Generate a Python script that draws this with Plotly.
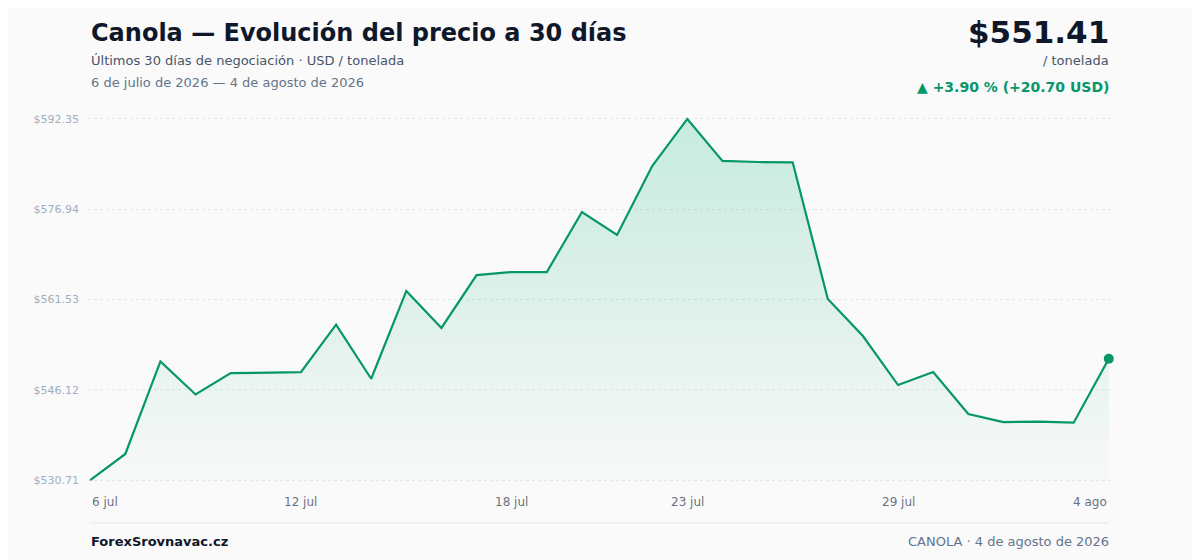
import plotly.graph_objects as go
import pandas as pd

# 30 calendar days, 6 jul 2026 -> 4 ago 2026
dates = pd.date_range("2026-07-06", periods=30, freq="D")
prices = [530.71, 535.16, 550.97, 545.32, 548.96, 549.08, 549.13, 557.25, 548.00, 563.00,
          556.67, 565.69, 566.21, 566.21, 576.47, 572.54, 584.32, 592.35, 585.18, 585.00,
          584.95, 561.61, 555.30, 546.93, 549.15, 541.98, 540.61, 540.70, 540.50, 551.41]

y_ticks = [530.71, 546.12, 561.53, 576.94, 592.35]
y_tick_text = ["$530.71", "$546.12", "$561.53", "$576.94", "$592.35"]
x_tick_dates = ["2026-07-06", "2026-07-12", "2026-07-18", "2026-07-23", "2026-07-29", "2026-08-04"]
x_tick_text = ["6 jul", "12 jul", "18 jul", "23 jul", "29 jul", "4 ago"]

GREEN = "#059669"
BG = "#fafafa"
FONT = "DejaVu Sans"

# the page body adds 8px around the figure, so work in page pixels and shift
OFF = 8
W, H = 1200 - OFF, 560 - OFF
X0, X1, Y0, Y1 = 88, 1111, 116, 483   # plot area, page pixels

def px(x):
    return (x - X0) / (X1 - X0)

def py(y):
    return (Y1 - y) / (Y1 - Y0)

ymin, ymax = min(prices), max(prices)
pad = 0.5

fig = go.Figure()
fig.add_trace(go.Scatter(
    x=dates, y=prices,
    mode="lines",
    line=dict(color=GREEN, width=2.2),
    fill="tozeroy",
    fillgradient=dict(type="vertical", start=ymin, stop=ymax,
                      colorscale=[[0, "rgba(5,150,105,0.01)"], [1, "rgba(16,185,129,0.22)"]]),
    hoverinfo="skip",
))
fig.add_trace(go.Scatter(
    x=[dates[-1]], y=[prices[-1]],
    mode="markers",
    marker=dict(color=GREEN, size=10),
    cliponaxis=False,
    hoverinfo="skip",
))

annotations = []
# x tick labels: first left aligned, last right aligned
for i, (d, t) in enumerate(zip(x_tick_dates, x_tick_text)):
    anchor = "left" if i == 0 else ("right" if i == len(x_tick_dates) - 1 else "center")
    annotations.append(dict(x=d, y=0, xref="x", yref="paper", text=t, showarrow=False,
                            xanchor=anchor, yanchor="top", yshift=-10,
                            font=dict(size=12, color="#6b7280")))

def label(x, y, text, size, color, anchor="left", bold=False):
    if bold:
        text = "<b>" + text + "</b>"
    annotations.append(dict(x=px(x), y=py(y), xref="paper", yref="paper", text=text,
                            showarrow=False, xanchor=anchor, yanchor="middle",
                            font=dict(size=size, color=color, family=FONT)))

label(89, 33, "Canola — Evolución del precio a 30 días", 24, "#0f172a", bold=True)
label(89, 61, "Últimos 30 días de negociación · USD / tonelada", 13, "#475569")
label(89, 83, "6 de julio de 2026 — 4 de agosto de 2026", 13, "#64748b")
label(1111, 32, "$551.41", 31, "#0f172a", anchor="right", bold=True)
label(1111, 61, "/ tonelada", 13, "#475569", anchor="right")
label(1111, 87, "▲ +3.90 % (+20.70 USD)", 14, GREEN, anchor="right", bold=True)
label(89, 541, "ForexSrovnavac.cz", 13, "#0f172a", bold=True)
label(1111, 541, "CANOLA · 4 de agosto de 2026", 13, "#64748b", anchor="right")

fig.update_layout(
    width=W, height=H,
    margin=dict(l=X0 - OFF, r=1200 - X1, t=Y0 - OFF, b=560 - Y1),
    paper_bgcolor=BG, plot_bgcolor=BG,
    font=dict(family=FONT),
    showlegend=False,
    annotations=annotations,
    shapes=[dict(type="line", xref="paper", yref="paper", x0=px(90), x1=px(1109),
                 y0=py(523), y1=py(523), line=dict(color="#e5e7eb", width=1))],
    xaxis=dict(
        range=[dates[0] - pd.Timedelta(hours=1.5), dates[-1] + pd.Timedelta(hours=1.5)],
        showgrid=False, zeroline=False, showticklabels=False, showline=False,
    ),
    yaxis=dict(
        range=[ymin - pad, ymax + pad],
        tickvals=y_ticks, ticktext=y_tick_text,
        showgrid=True, gridcolor="#e5e7eb", griddash="dot", gridwidth=1,
        zeroline=False, showline=False,
        tickfont=dict(size=11, color="#a0aec0"),
        ticklabelstandoff=8,
    ),
)

fig.write_html("out.html")
